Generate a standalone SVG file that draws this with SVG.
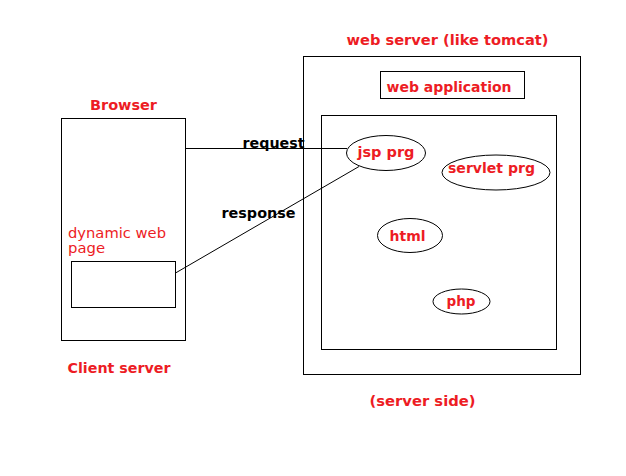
<svg xmlns="http://www.w3.org/2000/svg" width="626" height="476" viewBox="0 0 626 476">
<style>
.box{fill:none;stroke:#000;stroke-width:1}
.ell{fill:#fff;stroke:#000;stroke-width:1}
.line{fill:none;stroke:#000;stroke-width:1}
.rt{fill:#ed1c24;font-family:"DejaVu Sans","Liberation Sans",sans-serif;font-weight:bold;font-size:14.5px}
.rn{fill:#ed1c24;font-family:"DejaVu Sans","Liberation Sans",sans-serif;font-size:13.5px}
.bt{fill:#000;font-family:"DejaVu Sans","Liberation Sans",sans-serif;font-weight:bold;font-size:14.5px}
</style>
<rect width="626" height="476" fill="#fff"/>
<g id="browser">
<rect class="box" x="61.5" y="118.5" width="124" height="222"/>
<text class="rt" x="90" y="110" textLength="67" lengthAdjust="spacingAndGlyphs">Browser</text>
</g>
<g id="dynamic-page">
<rect class="box" x="71.5" y="261.5" width="104" height="46"/>
<text class="rn" x="68" y="237.5" textLength="98" lengthAdjust="spacingAndGlyphs">dynamic web</text>
<text class="rn" x="68" y="253" textLength="37" lengthAdjust="spacingAndGlyphs">page</text>
</g>
<g id="client-label">
<text class="rt" x="67.5" y="372.5" textLength="103" lengthAdjust="spacingAndGlyphs">Client server</text>
</g>
<g id="web-server">
<rect class="box" x="303.5" y="56.5" width="277" height="318"/>
<text class="rt" x="346.5" y="45" textLength="202" lengthAdjust="spacingAndGlyphs">web server (like tomcat)</text>
<text class="rt" x="369.5" y="405.5" textLength="106" lengthAdjust="spacingAndGlyphs">(server side)</text>
</g>
<g id="web-application">
<rect class="box" x="380.5" y="71.5" width="144" height="27"/>
<text class="rt" x="386.5" y="92" textLength="125" lengthAdjust="spacingAndGlyphs">web application</text>
</g>
<g id="app-container">
<rect class="box" x="321.5" y="115.5" width="235" height="234"/>
</g>
<g id="connectors">
<line class="line" x1="185.5" y1="148.5" x2="347" y2="148.5"/>
<line class="line" x1="175.5" y1="273" x2="359" y2="166.5"/>
<text class="bt" x="242.5" y="147.5" textLength="62" lengthAdjust="spacingAndGlyphs">request</text>
<text class="bt" x="221.5" y="218" textLength="74" lengthAdjust="spacingAndGlyphs">response</text>
</g>
<g id="jsp">
<ellipse class="ell" cx="386" cy="153" rx="39.5" ry="17.5"/>
<text class="rt" x="357.5" y="157" textLength="57" lengthAdjust="spacingAndGlyphs">jsp prg</text>
</g>
<g id="servlet">
<ellipse class="ell" cx="496" cy="172.5" rx="54" ry="17.5"/>
<text class="rt" x="448" y="173" textLength="87" lengthAdjust="spacingAndGlyphs">servlet prg</text>
</g>
<g id="html">
<ellipse class="ell" cx="410" cy="235.5" rx="32.5" ry="17"/>
<text class="rt" x="389.5" y="241" textLength="36" lengthAdjust="spacingAndGlyphs">html</text>
</g>
<g id="php">
<ellipse class="ell" cx="461.5" cy="301.5" rx="28.5" ry="12.5"/>
<text class="rt" x="446.5" y="306" textLength="29" lengthAdjust="spacingAndGlyphs">php</text>
</g>
</svg>
